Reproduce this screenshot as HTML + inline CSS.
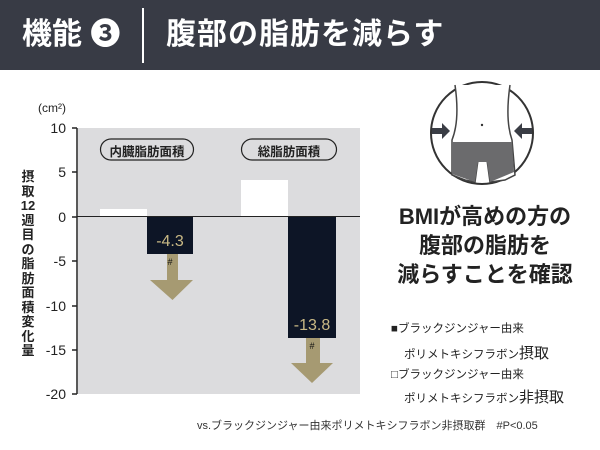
<!DOCTYPE html>
<html><head><meta charset="utf-8"><style>
body{margin:0;width:600px;height:450px;background:#fff;overflow:hidden;font-family:"Liberation Sans","Noto Sans CJK JP",sans-serif;position:relative}
.a{position:absolute;white-space:nowrap}
</style></head><body>
<div class="a" style="left:0;top:0;width:600px;height:70px;background:#383b45"></div>
<div class="a" style="left:22px;top:15px;font-size:30px;font-weight:bold;color:#fff;line-height:40px">機能 ❸</div>
<div class="a" style="left:142px;top:8px;width:2px;height:55px;background:#fff"></div>
<div class="a" style="left:166px;top:15px;font-size:30px;font-weight:bold;color:#fff;line-height:40px;letter-spacing:1px">腹部の脂肪を減らす</div>

<svg class="a" style="left:0;top:0" width="600" height="450">
<rect x="78" y="128" width="282" height="266" fill="#dcdcde"/>
<line x1="77" y1="128" x2="77" y2="394" stroke="#222" stroke-width="1.5"/>
<g stroke="#222" stroke-width="1.5">
<line x1="72" y1="128" x2="77" y2="128"/><line x1="72" y1="172" x2="77" y2="172"/><line x1="72" y1="217" x2="77" y2="217"/><line x1="72" y1="261" x2="77" y2="261"/><line x1="72" y1="306" x2="77" y2="306"/><line x1="72" y1="350" x2="77" y2="350"/><line x1="72" y1="394" x2="77" y2="394"/>
</g>
<g font-size="14" fill="#222" text-anchor="end" font-family="Liberation Sans,sans-serif">
<text x="66" y="133">10</text><text x="66" y="177">5</text><text x="66" y="222">0</text><text x="66" y="266">-5</text><text x="66" y="311">-10</text><text x="66" y="355">-15</text><text x="66" y="399">-20</text>
</g>
<text x="38" y="112" font-size="12" fill="#222">(cm²)</text>
<rect x="100" y="209" width="47" height="8" fill="#fff"/>
<rect x="241" y="180" width="47" height="37" fill="#fff"/>
<line x1="77" y1="216.5" x2="360" y2="216.5" stroke="#222" stroke-width="1"/>
<rect x="147" y="217" width="46" height="37" fill="#0d1526"/>
<rect x="288" y="217" width="48" height="121" fill="#0d1526"/>
<polygon points="167,254 178,254 178,280 193,280 172.5,300 150,280 167,280" fill="#a69a72"/>
<polygon points="306,338 320,338 320,363 333,363 312,383 291,363 306,363" fill="#a69a72"/>
<text x="170" y="246" font-size="16" fill="#c9b985" text-anchor="middle">-4.3</text>
<text x="312" y="330" font-size="16" fill="#c9b985" text-anchor="middle">-13.8</text>
<text x="170" y="265" font-size="9" fill="#111" text-anchor="middle">#</text>
<text x="312" y="349" font-size="9" fill="#111" text-anchor="middle">#</text>
<rect x="100.5" y="139" width="93" height="21" rx="10.5" fill="none" stroke="#222" stroke-width="1.2"/>
<rect x="241.5" y="139" width="95" height="21" rx="10.5" fill="none" stroke="#222" stroke-width="1.2"/>
<circle cx="482" cy="133" r="51" fill="#fff" stroke="#333" stroke-width="2"/>
<path d="M455,85 Q460,120 452,140 L452,175 L465,180 L475,182 L478,160 L487,160 L490,182 L505,180 L515,175 L512,140 Q505,120 510,85" fill="#fff" stroke="#444" stroke-width="1.5"/>
<path d="M452,142 L512,142 L514,172 L490,182 L487,162 L478,162 L475,182 L452,174 Z" fill="#6b6b6d"/>
<circle cx="482" cy="125" r="1.2" fill="#333"/>
<polygon points="432,128 442,128 442,123 450,131 442,139 442,134 432,134" fill="#3a3d45"/>
<polygon points="532,128 522,128 522,123 514,131 522,139 522,134 532,134" fill="#3a3d45"/>
</svg>
<div class="a" style="left:100px;top:141px;width:94px;text-align:center;font-size:12.5px;font-weight:bold;color:#222">内臓脂肪面積</div>
<div class="a" style="left:241px;top:141px;width:96px;text-align:center;font-size:12.5px;font-weight:bold;color:#222">総脂肪面積</div>
<div class="a" style="left:20px;top:170px;width:16px;font-size:13px;font-weight:bold;color:#222;line-height:14.5px;white-space:normal;text-align:center">摂取12週目の脂肪面積変化量</div>
<div class="a" style="left:375px;top:202px;width:220px;text-align:center;font-size:22px;font-weight:bold;color:#222;line-height:29px;white-space:normal">BMIが高めの方の<br>腹部の脂肪を<br>減らすことを確認</div>
<div class="a" style="left:391px;top:320px;font-size:11.5px;color:#222">■ブラックジンジャー由来</div>
<div class="a" style="left:404px;top:342px;font-size:11.5px;color:#222">ポリメトキシフラボン<span style="font-size:15px">摂取</span></div>
<div class="a" style="left:391px;top:366px;font-size:11.5px;color:#222">□ブラックジンジャー由来</div>
<div class="a" style="left:404px;top:386px;font-size:11.5px;color:#222">ポリメトキシフラボン<span style="font-size:15px">非摂取</span></div>
<div class="a" style="left:197px;top:417px;font-size:11px;color:#333">vs.ブラックジンジャー由来ポリメトキシフラボン非摂取群　#P&lt;0.05</div>
</body></html>
